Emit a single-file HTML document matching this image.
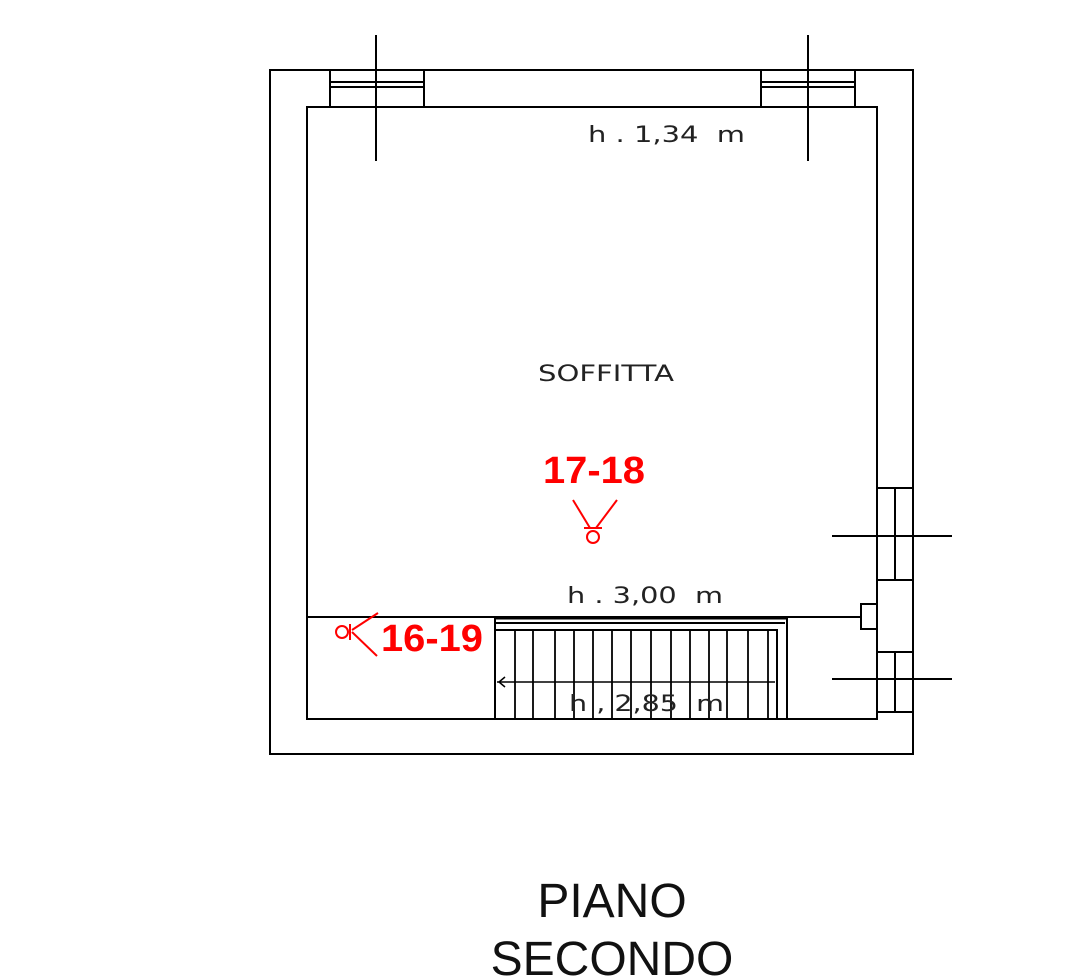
<!DOCTYPE html>
<html><head><meta charset="utf-8"><style>
html,body{margin:0;padding:0;background:#fff;}
svg{display:block;}
</style></head><body>
<svg width="1080" height="978" viewBox="0 0 1080 978" xmlns="http://www.w3.org/2000/svg">
<g fill="none" stroke="#000" stroke-width="2">
<rect x="270" y="70" width="643" height="684"/>
<rect x="307" y="107" width="570" height="612"/>
<rect x="330" y="70" width="94" height="37" fill="#fff"/>
<line x1="330" y1="82" x2="424" y2="82"/><line x1="330" y1="87" x2="424" y2="87"/>
<rect x="761" y="70" width="94" height="37" fill="#fff"/>
<line x1="761" y1="82" x2="855" y2="82"/><line x1="761" y1="87" x2="855" y2="87"/>
<line x1="376" y1="35" x2="376" y2="161"/>
<line x1="808" y1="35" x2="808" y2="161"/>
<rect x="877" y="488" width="36" height="92" fill="#fff"/>
<line x1="895" y1="488" x2="895" y2="580"/>
<line x1="832" y1="536" x2="952" y2="536"/>
<rect x="877" y="652" width="36" height="60" fill="#fff"/>
<line x1="895" y1="652" x2="895" y2="712"/>
<line x1="832" y1="679" x2="952" y2="679"/>
<rect x="861" y="604" width="16" height="25" fill="#fff"/>
<line x1="307" y1="617" x2="861" y2="617"/>
<line x1="495" y1="618" x2="787" y2="618" stroke-width="3"/>
<line x1="495" y1="617" x2="495" y2="719"/>
<line x1="787" y1="617" x2="787" y2="719"/>
<line x1="495" y1="623" x2="785" y2="623"/>
<polyline points="495,630 777,630 777,719"/>
<g stroke-width="1.8">
<line x1="515" y1="630" x2="515" y2="719"/><line x1="533" y1="630" x2="533" y2="719"/>
<line x1="555" y1="630" x2="555" y2="719"/><line x1="574" y1="630" x2="574" y2="719"/>
<line x1="593" y1="630" x2="593" y2="719"/><line x1="612" y1="630" x2="612" y2="719"/>
<line x1="631" y1="630" x2="631" y2="719"/><line x1="651" y1="630" x2="651" y2="719"/>
<line x1="671" y1="630" x2="671" y2="719"/><line x1="690" y1="630" x2="690" y2="719"/>
<line x1="709" y1="630" x2="709" y2="719"/><line x1="727" y1="630" x2="727" y2="719"/>
<line x1="748" y1="630" x2="748" y2="719"/><line x1="768" y1="630" x2="768" y2="719"/>
</g>
<line x1="497" y1="682" x2="775" y2="682" stroke-width="1.5"/>
<polyline points="505,677 499,682 505,687" stroke-width="1.5"/>
</g>
<g fill="none" stroke="#f00" stroke-width="2">
<line x1="573" y1="500" x2="590" y2="528"/><line x1="617" y1="500" x2="596" y2="528"/>
<line x1="584" y1="528" x2="602" y2="528"/>
<circle cx="593" cy="537" r="6"/>
<line x1="378" y1="613" x2="352" y2="630"/><line x1="377" y1="656" x2="352" y2="632"/>
<line x1="350" y1="624" x2="350" y2="640"/>
<circle cx="342" cy="632" r="6"/>
</g>
<g font-family="DejaVu Sans, Liberation Sans, sans-serif" fill="#222">
<text x="588" y="142" font-size="22" textLength="157" lengthAdjust="spacingAndGlyphs">h . 1,34&#160; m</text>
<text x="538" y="381" font-size="22" textLength="136" lengthAdjust="spacingAndGlyphs">SOFFITTA</text>
<text x="567" y="603" font-size="22" textLength="156" lengthAdjust="spacingAndGlyphs">h . 3,00&#160; m</text>
<text x="569" y="711" font-size="22" textLength="155" lengthAdjust="spacingAndGlyphs">h , 2,85&#160; m</text>
</g>
<g font-family="Liberation Sans, sans-serif" font-weight="bold" fill="#f00">
<text x="543" y="483" font-size="38" textLength="102" lengthAdjust="spacingAndGlyphs">17-18</text>
<text x="381" y="651" font-size="38" textLength="102" lengthAdjust="spacingAndGlyphs">16-19</text>
</g>
<g font-family="Liberation Sans, sans-serif">
<text x="612" y="917" font-size="48" fill="#111" text-anchor="middle">PIANO</text>
<text x="612" y="975" font-size="48" fill="#111" text-anchor="middle">SECONDO</text>
</g>
</svg>
</body></html>
